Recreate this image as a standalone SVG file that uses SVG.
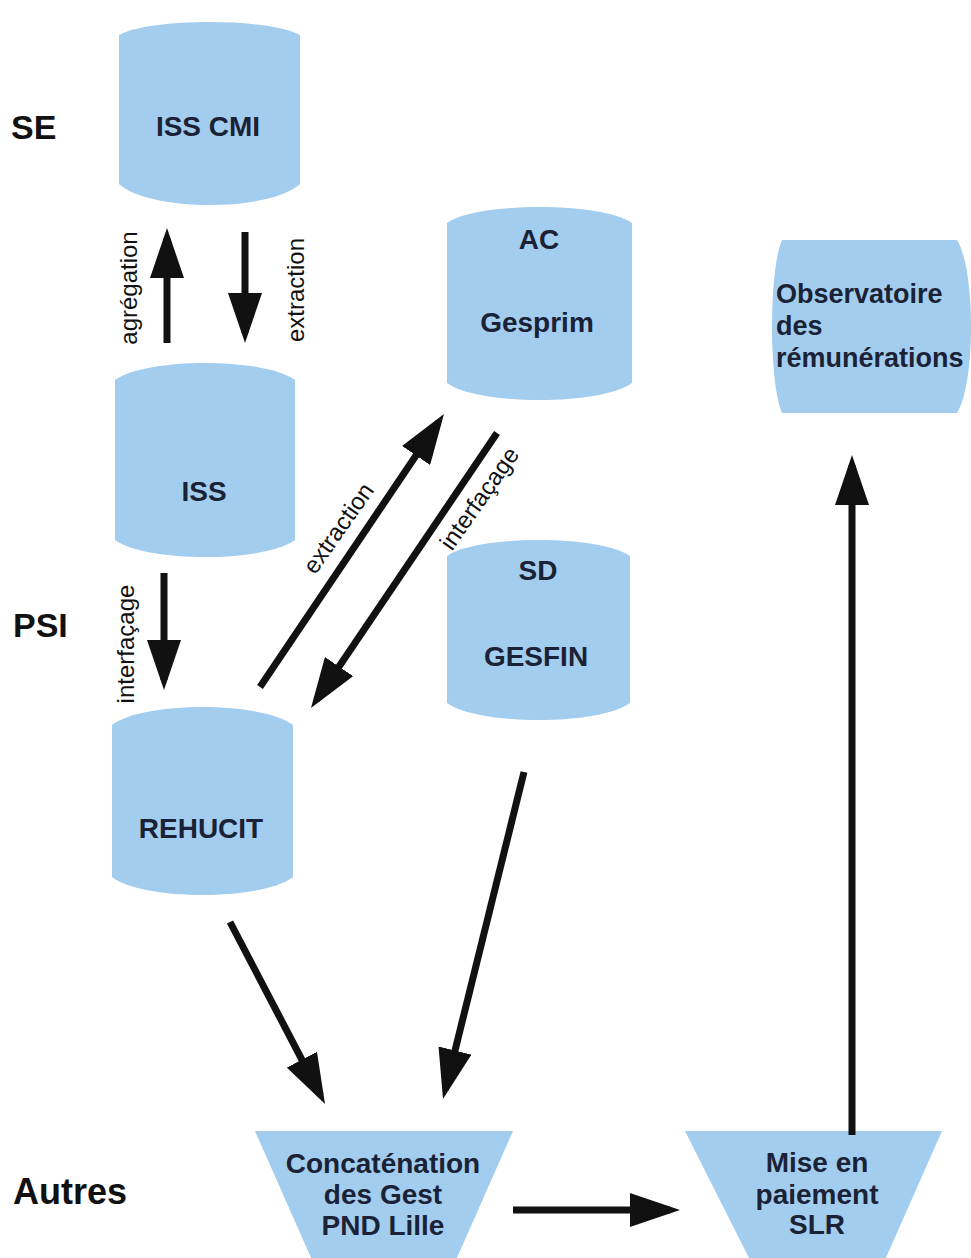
<svg xmlns="http://www.w3.org/2000/svg" width="971" height="1258" viewBox="0 0 971 1258">
<style>
.shape{fill:#a2cdee;stroke:none}
.nl{font-family:"Liberation Sans",Arial,sans-serif;font-weight:bold;font-size:28px;fill:#1b2236}
.obs{font-size:27px}
.side{font-family:"Liberation Sans",Arial,sans-serif;font-weight:bold;font-size:34px;fill:#111}
.al{font-family:"Liberation Sans",Arial,sans-serif;font-size:24px;fill:#111}
.arr{stroke:#111;stroke-width:7;fill:none;marker-end:url(#ah)}
</style>
<defs>
<marker id="ah" markerUnits="userSpaceOnUse" markerWidth="50" markerHeight="34" viewBox="0 0 50 34" refX="40" refY="17" orient="auto">
<path d="M0,0 L50,17 L0,34 Z" fill="#111"/>
</marker>
</defs>
<rect width="971" height="1258" fill="#ffffff"/>

<g id="side-labels">
<text class="side" x="11" y="139">SE</text>
<text class="side" x="13" y="637">PSI</text>
<text class="side" x="13" y="1204" style="font-size:36px">Autres</text>
</g>

<g id="iss-cmi">
<path class="shape" d="M119,35 C150,17.7 269,17.7 300,35 L300,184 C269,212 150,212 119,184 Z"/>
<text class="nl" x="208" y="136" text-anchor="middle">ISS CMI</text>
</g>

<g id="iss">
<path class="shape" d="M115,380 C146,357.3 264,357.3 295,380 L295,540 C264,562.7 146,562.7 115,540 Z"/>
<text class="nl" x="204" y="501" text-anchor="middle">ISS</text>
</g>

<g id="ac-gesprim">
<path class="shape" d="M447,223 C478,201.7 601,201.7 632,223 L632,383 C601,405.7 478,405.7 447,383 Z"/>
<text class="nl" x="539" y="249" text-anchor="middle">AC</text>
<text class="nl" x="537" y="332" text-anchor="middle">Gesprim</text>
</g>

<g id="sd-gesfin">
<path class="shape" d="M447,556 C478,534.7 599,534.7 630,556 L630,703 C599,725.7 478,725.7 447,703 Z"/>
<text class="nl" x="538" y="580" text-anchor="middle">SD</text>
<text class="nl" x="536" y="666" text-anchor="middle">GESFIN</text>
</g>

<g id="rehucit">
<path class="shape" d="M112,725 C143,701 262,701 293,725 L293,877 C262,901 143,901 112,877 Z"/>
<text class="nl" x="201" y="838" text-anchor="middle">REHUCIT</text>
</g>

<g id="observatoire">
<path class="shape" d="M782,240 L957,240 C975.7,270 975.7,383 957,413 L782,413 C768.7,383 768.7,270 782,240 Z"/>
<text class="nl obs" x="776" y="303">Observatoire</text>
<text class="nl obs" x="776" y="335">des</text>
<text class="nl obs" x="776" y="367">rémunérations</text>
</g>

<g id="concatenation">
<path class="shape" d="M255,1131 L513,1131 L456,1260 L312,1260 Z"/>
<text class="nl" x="383" y="1173" text-anchor="middle">Concaténation</text>
<text class="nl" x="383" y="1204" text-anchor="middle">des Gest</text>
<text class="nl" x="383" y="1235" text-anchor="middle">PND Lille</text>
</g>

<g id="mise-en-paiement">
<path class="shape" d="M685,1131 L942,1131 L885,1260 L750,1260 Z"/>
<text class="nl" x="817" y="1172" text-anchor="middle">Mise en</text>
<text class="nl" x="817" y="1204" text-anchor="middle">paiement</text>
<text class="nl" x="817" y="1234" text-anchor="middle">SLR</text>
</g>

<g id="connectors">
<line class="arr" x1="167" y1="343" x2="167" y2="238"/>
<line class="arr" x1="245" y1="232" x2="245" y2="333"/>
<line class="arr" x1="164" y1="573" x2="164" y2="680"/>
<line class="arr" x1="260" y1="687" x2="438.4" y2="422.3"/>
<line class="arr" x1="497" y1="433" x2="316.6" y2="699.7"/>
<line class="arr" x1="230" y1="922" x2="320.4" y2="1095.1"/>
<line class="arr" x1="524" y1="772" x2="445.4" y2="1089.3"/>
<line class="arr" x1="513" y1="1210" x2="670" y2="1210"/>
<line class="arr" x1="852" y1="1135" x2="852" y2="465"/>
<text class="al" transform="translate(137,288) rotate(-90)" text-anchor="middle">agrégation</text>
<text class="al" transform="translate(304,290) rotate(-90)" text-anchor="middle">extraction</text>
<text class="al" transform="translate(134,644) rotate(-90)" text-anchor="middle">interfaçage</text>
<text class="al" transform="translate(345,533) rotate(-55)" text-anchor="middle">extraction</text>
<text class="al" transform="translate(486,503) rotate(-55)" text-anchor="middle">interfaçage</text>
</g>
</svg>
